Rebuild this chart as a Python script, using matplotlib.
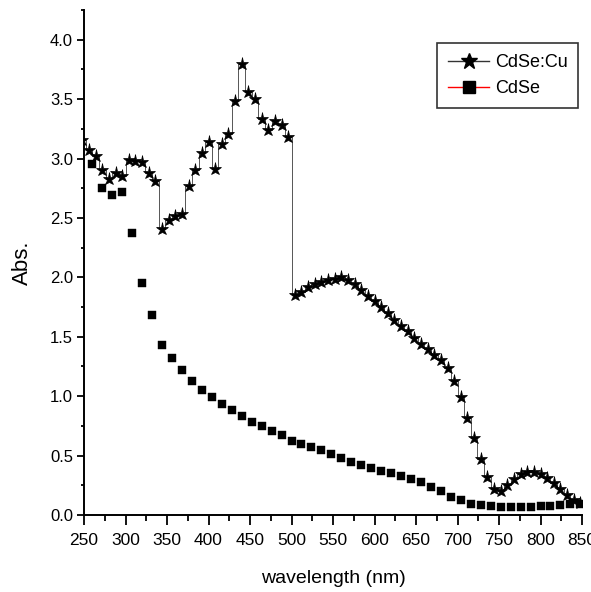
import matplotlib
matplotlib.use("Agg")
import matplotlib.pyplot as plt
from matplotlib.lines import Line2D
from matplotlib.ticker import MultipleLocator
import numpy as np

plt.rcParams['font.family'] = ['Liberation Sans', 'DejaVu Sans']

# CdSe:Cu (stars), 8 nm spacing
cu_wl = list(range(248, 849, 8))
cu_abs = [3.16, 3.07, 3.02, 2.905, 2.83, 2.88, 2.85, 2.99, 2.98, 2.97, 2.88, 2.81,
          2.41, 2.485, 2.52, 2.53, 2.77, 2.90, 3.05, 3.14,
          2.91, 3.12, 3.205, 3.48, 3.795, 3.56, 3.50, 3.33, 3.24, 3.32, 3.28, 3.18,
          1.85, 1.88, 1.915, 1.94, 1.96, 1.98, 1.99, 2.00, 1.98, 1.945, 1.895, 1.845, 1.80,
          1.75, 1.70, 1.64, 1.59, 1.545, 1.49, 1.44, 1.395, 1.35, 1.305, 1.235, 1.13,
          0.99, 0.82, 0.645, 0.47, 0.32, 0.22, 0.205, 0.25, 0.30, 0.345, 0.36, 0.36,
          0.345, 0.31, 0.27, 0.215, 0.17, 0.125, 0.10]

# CdSe (squares), 12 nm spacing
cd_wl = list(range(260, 849, 12))
cd_abs = [2.95, 2.75, 2.69, 2.72, 2.37, 1.95, 1.68, 1.43, 1.32, 1.22, 1.13, 1.055,
          0.99, 0.93, 0.88, 0.83, 0.78, 0.745, 0.71, 0.675, 0.62, 0.60, 0.57, 0.55,
          0.51, 0.48, 0.45, 0.42, 0.395, 0.37, 0.35, 0.33, 0.30, 0.275, 0.235, 0.20,
          0.155, 0.125, 0.09, 0.08, 0.075, 0.07, 0.07, 0.07, 0.07, 0.075, 0.075, 0.08,
          0.09, 0.09]

series_labels = ["CdSe:Cu", "CdSe"]

fig = plt.figure(figsize=(5.91, 5.92), dpi=100)
ax = fig.add_axes([84/591, 77/592, 498/591, 505/592])

ax.plot(cu_wl, cu_abs, color='#555555', lw=0.7, drawstyle='steps-mid', zorder=2)
ax.plot(cu_wl, cu_abs, ls='none', marker='*', ms=9.5, mfc='black', mec='black',
        mew=0.5, zorder=3)
ax.plot(cd_wl, cd_abs, ls='none', marker='s', ms=5.5, mfc='black', mec='black',
        mew=0.3, zorder=3)

ax.set_xlim(250, 850)
ax.set_ylim(0, 4.25)
ax.xaxis.set_major_locator(MultipleLocator(50))
ax.xaxis.set_minor_locator(MultipleLocator(25))
ax.yaxis.set_major_locator(MultipleLocator(0.5))
ax.yaxis.set_minor_locator(MultipleLocator(0.25))
ax.yaxis.set_major_formatter(matplotlib.ticker.FormatStrFormatter('%.1f'))

for s in ['top', 'right']:
    ax.spines[s].set_visible(False)
for s in ['left', 'bottom']:
    ax.spines[s].set_linewidth(1.4)

ax.tick_params(axis='x', which='major', direction='out', length=7, width=1.3,
               labelsize=12.5, pad=6)
ax.tick_params(axis='x', which='minor', direction='out', length=4, width=1.3)
ax.tick_params(axis='y', which='major', direction='out', length=5, width=1.3,
               labelsize=12, pad=3)
ax.tick_params(axis='y', which='minor', direction='out', length=2.5, width=1.3)

ax.set_xlabel("wavelength (nm)", fontsize=14, labelpad=16)
ax.set_ylabel("Abs.", fontsize=16, labelpad=12)

handles = [
    Line2D([], [], color='#333333', lw=1.0, marker='*', ms=12, mfc='black', mec='black'),
    Line2D([], [], color='red', lw=1.0, marker='s', ms=8, mfc='black', mec='black'),
]
leg = fig.legend(handles, series_labels, loc='upper left',
                 bbox_to_anchor=(437/591, 1 - 43/592), borderaxespad=0,
                 fontsize=13, handlelength=2.3, handletextpad=0.3,
                 borderpad=0.6, labelspacing=0.5, fancybox=False, frameon=True)
leg.get_frame().set_edgecolor('black')
leg.get_frame().set_linewidth(1.2)

fig.savefig("out.png", dpi=100)
